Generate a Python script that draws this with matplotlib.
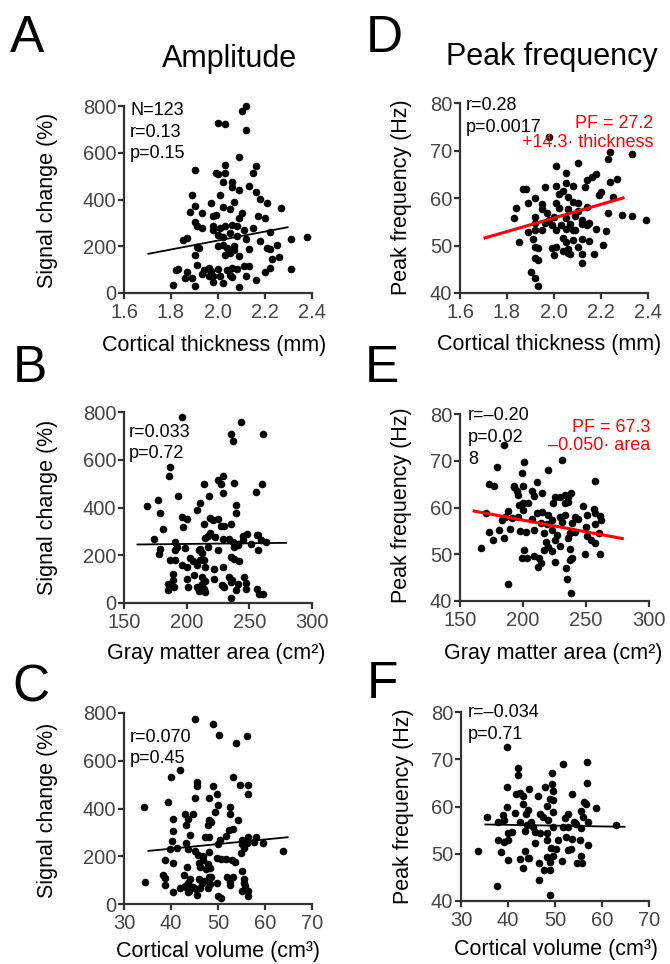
import matplotlib
matplotlib.use("Agg")
import matplotlib.pyplot as plt
import numpy as np

plt.rcParams['font.family'] = ['Liberation Sans', 'DejaVu Sans']

W, H = 670, 964

# ---- panel A: thickness vs signal change
a_x = [2.12, 2.10, 2.12, 2.00, 2.03, 2.09, 1.90, 1.99, 2.00, 2.03, 2.03, 2.16, 2.15, 2.02,
       2.06, 2.06, 2.13, 2.16, 1.89, 2.01, 2.09, 2.18, 2.21, 2.27, 1.97, 2.02, 2.05, 2.07,
       1.90, 1.88, 1.93, 1.98, 1.99, 2.17, 2.20, 2.09, 1.90, 1.91, 1.93, 1.98, 2.01, 2.03,
       2.06, 2.08, 2.11, 2.15, 2.00, 2.02, 2.05, 2.08, 2.12, 2.18, 2.22, 2.31, 2.38, 1.85,
       1.87, 1.92, 1.91, 2.02, 2.04, 2.07, 2.07, 2.13, 2.21, 2.22, 2.25, 2.03, 2.09, 1.90,
       2.23, 2.26, 2.22, 2.20, 2.31, 1.82, 1.83, 1.87, 1.91, 1.93, 1.94, 1.96, 1.97, 2.00,
       2.01, 2.04, 2.05, 2.08, 2.11, 2.13, 2.12, 2.16, 1.89, 1.90, 1.86, 1.81, 1.98, 2.02,
       2.06, 2.09, 1.96, 1.98, 2.06, 2.05, 2.00, 1.98, 2.10]
a_y = [800, 778, 697, 728, 723, 583, 527, 515, 510, 515, 548, 545, 515, 473,
       477, 455, 458, 430, 420, 420, 441, 401, 387, 363, 387, 367, 359, 391,
       373, 347, 342, 330, 335, 330, 320, 320, 302, 285, 279, 288, 278, 288,
       292, 285, 270, 278, 249, 239, 256, 242, 231, 221, 259, 231, 239, 225,
       235, 192, 196, 206, 192, 199, 182, 188, 192, 188, 206, 164, 159, 164,
       145, 154, 107, 88, 102, 97, 102, 88, 121, 83, 97, 107, 92, 102,
       74, 97, 78, 102, 114, 117, 71, 57, 64, 31, 64, 36, 46, 43,
       68, 26, 71, 71, 107, 171, 199, 270, 342]
a_fit_x = [1.7, 2.3]
a_fit_y = [167, 282]

# ---- panel D: thickness vs peak frequency
d_x = [1.98, 2.24, 2.33, 2.23, 2.01, 2.10, 2.05, 2.18, 2.16, 2.14, 2.27, 2.24, 2.05, 2.13,
       2.08, 1.96, 2.01, 1.87, 1.88, 2.04, 2.20, 2.19, 1.92, 2.02, 2.06, 2.25, 1.89, 1.95,
       2.01, 2.08, 2.10, 1.84, 1.95, 2.02, 2.06, 2.10, 2.14, 2.23, 2.29, 2.33, 2.39, 1.83,
       1.92, 1.97, 2.00, 2.05, 2.09, 2.12, 2.15, 2.18, 2.22, 1.92, 1.96, 1.99, 2.03, 2.07,
       2.12, 2.14, 1.89, 1.92, 1.95, 2.01, 2.05, 2.09, 1.85, 1.91, 1.92, 1.93, 2.04, 2.05,
       2.08, 2.12, 2.15, 2.21, 1.99, 2.01, 2.04, 2.06, 2.06, 2.10, 2.12, 2.17, 2.00, 2.07,
       1.92, 1.93, 2.12, 1.90, 1.92, 1.93, 2.08, 1.98]
d_y = [72.8, 69.7, 69.3, 68.3, 66.8, 67.3, 65.2, 65.1, 64.5, 63.8, 63.9, 63.4, 63.2, 62.4,
       62.5, 62.4, 62.5, 61.8, 61.8, 61.5, 61.2, 60.7, 60.0, 60.8, 60.2, 60.3, 58.9, 58.8,
       59.0, 59.2, 59.0, 57.8, 57.6, 57.8, 57.6, 57.3, 58.2, 56.9, 56.4, 56.2, 55.4, 55.7,
       56.1, 56.8, 55.9, 55.7, 56.2, 55.4, 54.8, 53.4, 53.1, 54.8, 54.8, 54.3, 54.3, 54.6,
       54.5, 54.3, 52.9, 53.2, 53.2, 53.2, 53.4, 53.2, 50.8, 51.3, 49.7, 49.4, 51.5, 50.8,
       51.1, 51.3, 51.0, 50.1, 49.4, 49.6, 48.9, 49.2, 48.5, 49.7, 48.2, 48.2, 48.0, 48.2,
       47.3, 46.9, 46.4, 44.4, 43.2, 41.4, 53.2, 55.4]
d_fit_x = [1.7, 2.3]
d_fit_y = [51.5, 60.1]

# ---- panel B: gray matter area vs signal change
b_x = [196, 243, 235, 237, 261, 187, 186, 260, 255, 238, 229, 225, 227, 214, 229, 218, 193,
       168, 177, 179, 211, 208, 239, 239, 196, 200, 219, 221, 225, 227, 230, 235, 214, 181,
       197, 219, 217, 215, 223, 229, 174, 234, 248, 245, 256, 257, 245, 237, 241, 251, 259,
       263, 179, 178, 191, 192, 191, 199, 210, 212, 211, 217, 225, 238, 241, 257, 187, 191,
       196, 200, 203, 205, 208, 211, 214, 215, 222, 235, 238, 242, 229, 189, 185, 189, 190,
       185, 200, 201, 206, 212, 212, 214, 215, 222, 228, 230, 234, 235, 236, 241, 239, 246,
       247, 247, 256, 258, 261, 235, 208, 210, 215]
b_y = [779, 758, 709, 678, 706, 570, 530, 500, 465, 504, 530, 514, 497, 497, 461, 447, 447,
       405, 430, 377, 419, 391, 409, 377, 360, 353, 357, 349, 353, 321, 321, 332, 332, 311,
       318, 293, 279, 274, 276, 269, 267, 269, 290, 279, 283, 283, 262, 255, 248, 248, 265,
       255, 228, 207, 255, 235, 221, 232, 223, 209, 228, 235, 221, 235, 244, 221, 181, 181,
       158, 151, 190, 176, 158, 179, 179, 151, 144, 193, 186, 176, 151, 120, 81, 95, 67,
       56, 102, 67, 116, 109, 81, 60, 46, 102, 74, 67, 109, 88, 95, 81, 56, 109,
       84, 60, 60, 36, 36, 22, 67, 50, 92]
b_fit_x = [160, 280]
b_fit_y = [245, 252]

# ---- panel E: gray matter area vs peak frequency
e_x = [185, 231, 179, 201, 220, 199, 257, 173, 177, 193, 200, 211, 195, 207, 209, 215, 225,
       229, 238, 236, 236, 200, 196, 197, 204, 224, 233, 248, 256, 171, 188, 186, 191, 200,
       211, 215, 220, 229, 233, 241, 251, 257, 261, 262, 196, 183, 207, 214, 219, 223, 231,
       239, 244, 250, 257, 173, 181, 190, 198, 202, 209, 217, 223, 227, 237, 241, 251, 260,
       185, 176, 218, 225, 236, 254, 257, 220, 229, 237, 201, 167, 217, 223, 249, 261, 199,
       203, 209, 213, 225, 237, 239, 212, 214, 234, 235, 188, 238, 233, 193]
e_y = [73.4, 70.2, 68.7, 69.8, 68.0, 67.3, 65.7, 65.0, 64.6, 64.5, 64.6, 65.4, 63.5, 63.6,
       62.5, 63.0, 62.3, 62.3, 63.2, 62.2, 61.2, 61.0, 62.7, 60.5, 61.0, 61.0, 60.9, 60.3,
       59.6, 58.9, 59.3, 58.0, 57.7, 59.5, 58.9, 59.1, 58.4, 58.0, 58.4, 58.0, 58.4, 58.8,
       58.2, 57.3, 58.0, 57.3, 57.5, 56.6, 56.5, 57.3, 56.8, 56.6, 57.5, 55.9, 56.5, 54.8,
       55.2, 55.3, 55.0, 54.8, 55.2, 54.5, 55.2, 54.1, 54.5, 54.8, 53.8, 54.6, 53.4, 53.0,
       52.7, 53.0, 53.4, 53.0, 52.5, 51.6, 51.8, 51.1, 50.9, 51.3, 50.9, 50.6, 50.1, 50.1,
       49.3, 49.1, 49.6, 49.3, 48.4, 48.8, 49.1, 47.2, 48.1, 47.0, 44.8, 43.6, 41.8, 62.7,
       64.3]
e_fit_x = [160, 280]
e_fit_y = [59.3, 53.3]

# ---- panel C: cortical volume vs signal change
c_x = [45.1, 49.0, 50.2, 56.2, 53.9, 41.9, 40.0, 53.2, 45.6, 45.5, 49.0, 54.6, 56.4, 56.4,
       49.7, 45.1, 48.1, 50.0, 49.3, 39.4, 34.2, 52.6, 52.5, 54.3, 43.0, 44.6, 43.7, 43.1,
       40.5, 48.1, 48.6, 47.9, 53.2, 52.3, 40.5, 44.0, 47.2, 48.1, 51.8, 56.4, 58.0, 59.6,
       40.3, 43.2, 50.4, 55.0, 57.6, 55.2, 63.8, 41.2, 43.7, 39.8, 45.2, 48.1, 50.0, 55.5,
       56.2, 45.8, 46.8, 49.7, 50.7, 51.8, 52.9, 53.6, 54.8, 46.8, 45.9, 38.7, 40.5, 47.9,
       46.1, 43.3, 48.3, 47.4, 55.0, 42.7, 38.2, 38.7, 48.6, 51.9, 53.1, 52.5, 55.5, 34.5,
       44.0, 45.9, 47.0, 48.1, 38.7, 43.7, 46.5, 48.3, 49.7, 52.5, 55.5, 55.8, 41.9, 40.5,
       43.3, 43.9, 45.4, 46.1, 47.8, 45.6, 43.7, 50.0, 50.7, 56.4, 56.4, 55.0, 43.0, 44.7]
c_y = [776, 753, 707, 702, 675, 563, 530, 530, 511, 493, 493, 498, 500, 460,
       460, 442, 442, 414, 386, 428, 407, 407, 379, 351, 376, 376, 354, 330,
       358, 351, 344, 330, 316, 312, 307, 288, 279, 281, 284, 281, 279, 254,
       263, 254, 270, 268, 261, 251, 222, 233, 229, 229, 223, 219, 251, 233,
       254, 205, 201, 191, 187, 187, 184, 177, 212, 184, 173, 184, 173, 167,
       156, 156, 149, 145, 139, 121, 121, 107, 111, 111, 111, 93, 103, 93,
       103, 103, 98, 111, 79, 86, 86, 84, 86, 79, 89, 75, 66, 52,
       66, 56, 61, 66, 66, 38, 52, 33, 24, 56, 33, 56, 75, 70]
c_fit_x = [35, 65]
c_fit_y = [222, 280]

# ---- panel F: cortical volume vs peak frequency
f_x = [39.7, 42.2, 42.2, 51.7, 56.9, 49.3, 56.9, 49.3, 39.7, 44.4, 47.8, 41.8, 42.5, 43.2,
       46.4, 49.6, 53.6, 48.9, 49.6, 56.2, 56.5, 43.2, 48.3, 39.7, 58.8, 44.2, 49.6, 55.6,
       35.5, 39.0, 41.5, 43.9, 46.8, 47.5, 52.8, 56.0, 57.0, 37.9, 39.2, 42.5, 44.8, 48.5,
       52.1, 54.1, 54.4, 40.1, 40.8, 43.6, 45.7, 46.8, 48.2, 49.6, 51.7, 52.8, 55.6, 45.4,
       44.0, 40.1, 39.2, 45.7, 48.2, 50.7, 52.4, 53.6, 55.3, 37.9, 57.0, 33.7, 38.6, 43.6,
       49.1, 50.3, 52.7, 53.5, 40.1, 42.5, 44.4, 44.2, 48.4, 49.6, 48.9, 51.4, 55.6, 55.8,
       54.6, 46.6, 43.2, 47.7, 48.9, 46.6, 37.6, 48.9, 62.9]
f_y = [72.6, 68.2, 66.6, 69.1, 69.4, 67.1, 65.0, 64.7, 64.2, 63.8, 64.2, 62.6, 62.9, 62.2,
       62.2, 63.3, 62.6, 61.5, 61.3, 61.0, 60.5, 60.6, 60.1, 59.9, 59.6, 59.2, 58.9, 59.1,
       57.8, 58.2, 58.7, 58.5, 58.4, 57.8, 58.5, 57.8, 56.8, 56.8, 57.1, 56.8, 56.8, 57.1,
       57.5, 56.8, 56.4, 54.4, 54.6, 54.9, 54.6, 54.4, 54.3, 55.7, 55.6, 55.7, 55.4, 55.7,
       56.1, 52.9, 52.5, 52.3, 52.9, 53.0, 53.5, 53.2, 53.0, 52.9, 51.8, 50.6, 50.4, 50.6,
       51.3, 50.9, 50.8, 50.9, 48.7, 48.8, 49.0, 49.2, 49.4, 49.5, 48.3, 48.5, 49.5, 48.1,
       48.1, 48.0, 47.0, 46.5, 46.5, 44.4, 43.2, 41.3, 56.1]
f_fit_x = [35, 65]
f_fit_y = [56.2, 55.7]

thick_ticks = [1.6, 1.8, 2.0, 2.2, 2.4]
thick_labels = ['1.6', '1.8', '2.0', '2.2', '2.4']
area_ticks = [150, 200, 250, 300]
vol_ticks = [30, 40, 50, 60, 70]
sig_ticks = [0, 200, 400, 600, 800]
pf_ticks = [40, 50, 60, 70, 80]

SPINE = '#333333'
TICKC = '#454545'


def rect(l, r, t, b):
    return [l / W, 1 - b / H, (r - l) / W, (b - t) / H]


def ftext(x, y, s, **kw):
    fig.text(x / W, 1 - y / H, s, **kw)


def panel(r, xs, ys, fx, fy, fitc, fitw, xl, yl, xt, yt, xtl=None):
    ax = fig.add_axes(rect(*r))
    ax.scatter(xs, ys, s=30, c='black', linewidths=0, clip_on=False, zorder=3)
    ax.plot(fx, fy, color=fitc, lw=fitw, zorder=4, solid_capstyle='butt')
    ax.set_xlim(xl)
    ax.set_ylim(yl)
    ax.set_xticks(xt)
    if xtl is not None:
        ax.set_xticklabels(xtl)
    ax.set_yticks(yt)
    for s in ['top', 'right']:
        ax.spines[s].set_visible(False)
    for s in ['left', 'bottom']:
        ax.spines[s].set_color(SPINE)
        ax.spines[s].set_linewidth(1.6)
    ax.tick_params(direction='out', length=4, width=1.6, color=SPINE,
                   labelcolor=TICKC, labelsize=14.5)
    ax.tick_params(axis='y', pad=1.5)
    ax.tick_params(axis='x', pad=3)
    ax.patch.set_alpha(0)
    return ax


fig = plt.figure(figsize=(W / 100, H / 100), dpi=100)

panel((124, 312, 106, 293), a_x, a_y, a_fit_x, a_fit_y, 'black', 1.3,
      (1.6, 2.4), (0, 800), thick_ticks, sig_ticks, thick_labels)
panel((460, 648, 103, 293), d_x, d_y, d_fit_x, d_fit_y, '#ff0000', 2.2,
      (1.6, 2.4), (40, 80), thick_ticks, pf_ticks, thick_labels)
panel((124, 312, 412, 603), b_x, b_y, b_fit_x, b_fit_y, 'black', 1.3,
      (150, 300), (0, 800), area_ticks, sig_ticks)
panel((460, 649, 414, 601), e_x, e_y, e_fit_x, e_fit_y, '#ff0000', 2.2,
      (150, 300), (40, 80), area_ticks, pf_ticks)
panel((124, 312, 713, 904), c_x, c_y, c_fit_x, c_fit_y, 'black', 1.3,
      (30, 70), (0, 800), vol_ticks, sig_ticks)
panel((461, 649, 712, 901), f_x, f_y, f_fit_x, f_fit_y, 'black', 1.3,
      (30, 70), (40, 80), vol_ticks, pf_ticks)

# panel letters and column titles
for lx, ly, s in [(10, 52, 'A'), (13, 382, 'B'), (12, 702, 'C'),
                  (366, 52, 'D'), (365, 382, 'E'), (367, 698, 'F')]:
    ftext(lx, ly, s, fontsize=37, va='baseline', ha='left')
ftext(230, 67, 'Amplitude', fontsize=22, ha='center', va='baseline')
ftext(552, 65, 'Peak frequency', fontsize=22, ha='center', va='baseline')

# axis labels
for cx, cy, s in [(48, 200, 'Signal change (%)'), (48, 507, 'Signal change (%)'),
                  (48, 810, 'Signal change (%)'), (401, 197, 'Peak frequency (Hz)'),
                  (401, 505, 'Peak frequency (Hz)'), (404, 806, 'Peak frequency (Hz)')]:
    ftext(cx, cy, s, fontsize=15.5, rotation=90, ha='center', va='center')
for cx, by, s in [(214, 351, 'Cortical thickness (mm)'), (549, 350, 'Cortical thickness (mm)'),
                  (216, 659, 'Gray matter area (cm²)'), (553, 659, 'Gray matter area (cm²)'),
                  (218, 957, 'Cortical volume (cm³)'), (556, 955, 'Cortical volume (cm³)')]:
    ftext(cx, by, s, fontsize=15.5, ha='center', va='baseline')

# statistics
stats = [(130, [115, 137, 158], ['N=123', 'r=0.13', 'p=0.15']),
         (466, [110, 132], ['r=0.28', 'p=0.0017']),
         (129, [437, 458], ['r=0.033', 'p=0.72']),
         (468, [420, 442, 464], ['r=–0.20', 'p=0.02', '8']),
         (130, [742, 763], ['r=0.070', 'p=0.45']),
         (468, [717, 739], ['r=–0.034', 'p=0.71'])]
for sx, ys, lines in stats:
    for yy, s in zip(ys, lines):
        ftext(sx, yy, s, fontsize=13, ha='left', va='baseline')

for rx, ys, lines in [(653, [128, 147], ['PF = 27.2', '+14.3· thickness']),
                      (650, [432, 450], ['PF = 67.3', '–0.050· area'])]:
    for yy, s in zip(ys, lines):
        ftext(rx, yy, s, fontsize=13, ha='right', va='baseline', color='#ff0000')

fig.savefig('out.png', dpi=100)
